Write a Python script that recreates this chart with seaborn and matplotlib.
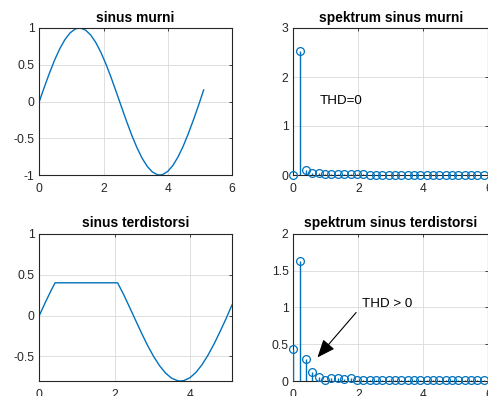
import numpy as np
import pandas as pd
import matplotlib
matplotlib.use("Agg")
import matplotlib.pyplot as plt
from matplotlib.ticker import FuncFormatter
import seaborn as sns

# ---------------- data ----------------
t_pure = [0, 0.16, 0.32, 0.48, 0.64, 0.80, 0.96, 1.12, 1.25, 1.28, 1.44, 1.60,
          1.76, 1.92, 2.08, 2.24, 2.40, 2.56, 2.72, 2.88, 3.04, 3.20, 3.36,
          3.52, 3.68, 3.75, 3.84, 4.00, 4.16, 4.32, 4.48, 4.64, 4.80, 4.96, 5.12]
y_pure = [0, 0.200, 0.391, 0.567, 0.720, 0.844, 0.934, 0.987, 1.0, 0.999, 0.972,
          0.905, 0.802, 0.666, 0.504, 0.321, 0.125, -0.075, -0.273, -0.460,
          -0.628, -0.771, -0.882, -0.959, -0.996, -1.0, -0.994, -0.951, -0.870,
          -0.754, -0.608, -0.437, -0.249, -0.050, 0.160]

t_dist = [0, 0.16, 0.32, 0.42, 2.08, 2.24, 2.40, 2.56, 2.72, 2.88, 3.04, 3.20,
          3.36, 3.52, 3.68, 3.75, 3.84, 4.00, 4.16, 4.32, 4.48, 4.64, 4.80,
          4.96, 5.12]
y_dist = [0, 0.160, 0.313, 0.40, 0.40, 0.257, 0.100, -0.060, -0.218, -0.368,
          -0.502, -0.616, -0.706, -0.767, -0.797, -0.80, -0.795, -0.761, -0.696,
          -0.603, -0.486, -0.350, -0.199, -0.040, 0.130]

freq = [0, 0.195, 0.391, 0.586, 0.781, 0.977, 1.172, 1.367, 1.563, 1.758,
        1.953, 2.148, 2.344, 2.539, 2.734, 2.930, 3.125, 3.320, 3.516, 3.711,
        3.906, 4.102, 4.297, 4.492, 4.688, 4.883, 5.078, 5.273, 5.469, 5.664,
        5.859]
spec_pure = [0.01, 2.53, 0.10, 0.05, 0.04, 0.03, 0.03, 0.02, 0.02, 0.02,
             0.02, 0.02, 0.01, 0.01, 0.01, 0.01, 0.01, 0.01, 0.01, 0.01,
             0.01, 0.01, 0.01, 0.01, 0.01, 0.01, 0.01, 0.01, 0.01, 0.01, 0.01]
spec_dist = [0.43, 1.63, 0.30, 0.12, 0.05, 0.01, 0.04, 0.04, 0.03, 0.04,
             0.02, 0.02, 0.02, 0.01, 0.01, 0.01, 0.01, 0.01, 0.01, 0.01,
             0.01, 0.01, 0.01, 0.01, 0.01, 0.01, 0.01, 0.01, 0.01, 0.01, 0.01]

titles = ["sinus murni", "spektrum sinus murni",
          "sinus terdistorsi", "spektrum sinus terdistorsi"]

# ---------------- style ----------------
sns.set_style("white")
plt.rcParams["font.family"] = ["Liberation Sans", "DejaVu Sans"]
plt.rcParams["axes.unicode_minus"] = False

BLUE = "#0072BD"
DARK = "#262626"
GRID = "#dedede"

W, H = 488, 396
fig = plt.figure(figsize=(W / 100, H / 100), dpi=100)


def box(left, top, width, height):
    return [left / W, (H - top - height) / H, width / W, height / H]


ax_tl = fig.add_axes(box(39.3, 28, 192.7, 147))
ax_tr = fig.add_axes(box(293.4, 28, 195.0, 147))
ax_bl = fig.add_axes(box(39.3, 233.7, 192.7, 147.3))
ax_br = fig.add_axes(box(293.4, 233.7, 195.0, 147.3))

fmt = FuncFormatter(lambda v, p: "%g" % round(v, 6))

# time signals
df_pure = pd.DataFrame({"t": t_pure, "y": y_pure})
df_dist = pd.DataFrame({"t": t_dist, "y": y_dist})
sns.lineplot(data=df_pure, x="t", y="y", ax=ax_tl, color=BLUE, lw=1.0,
             sort=False, estimator=None)
sns.lineplot(data=df_dist, x="t", y="y", ax=ax_bl, color=BLUE, lw=1.0,
             sort=False, estimator=None)

ax_tl.set_xlim(0, 6)
ax_tl.set_ylim(-1, 1)
ax_tl.set_xticks([0, 2, 4, 6])
ax_tl.set_yticks([-1, -0.5, 0, 0.5, 1])

ax_bl.set_xlim(0, 5.12)
ax_bl.set_ylim(-0.8, 1)
ax_bl.set_xticks([0, 2, 4])
ax_bl.set_yticks([-0.5, 0, 0.5, 1])

# spectra (stem plots)
for ax, vals in ((ax_tr, spec_pure), (ax_br, spec_dist)):
    ax.vlines(freq, 0, vals, color=BLUE, lw=1.0, zorder=3)
    mk, = ax.plot(freq, vals, ls="none", marker="o", ms=5.6, mfc="none",
                  mec=BLUE, mew=0.9, zorder=4)
    mk.set_clip_on(False)
    ax.set_xlim(0, 6)
    ax.set_xticks([0, 2, 4, 6])

ax_tr.set_ylim(0, 3)
ax_tr.set_yticks([0, 1, 2, 3])
ax_br.set_ylim(0, 2)
ax_br.set_yticks([0, 0.5, 1, 1.5, 2])

ax_tr.text(0.82, 1.5, "THD=0", ha="left", va="center", fontsize=9.6,
           color="black")
ax_br.text(2.12, 1.05, "THD > 0", ha="left", va="center", fontsize=9.6,
           color="black")
ax_br.annotate("", xy=(0.74, 0.32), xytext=(1.93, 0.93),
               arrowprops=dict(arrowstyle="-|>,head_length=1.1,head_width=0.45",
                               color="black", lw=0.8, shrinkA=0, shrinkB=0,
                               mutation_scale=10))

for ax, title in zip((ax_tl, ax_tr, ax_bl, ax_br), titles):
    ax.set_title(title, fontsize=9.9, fontweight="bold", color="black", pad=4.6)
    ax.set_xlabel("")
    ax.set_ylabel("")
    ax.grid(True, color=GRID, lw=0.7)
    ax.set_axisbelow(True)
    for s in ax.spines.values():
        s.set_color(DARK)
        s.set_linewidth(0.8)
        s.set_visible(True)
    ax.tick_params(axis="both", direction="in", length=2.5, width=0.6,
                   colors=DARK, labelsize=8.7, top=True, right=True)
    ax.tick_params(axis="x", pad=6)
    ax.tick_params(axis="y", pad=3.5)
    ax.xaxis.set_major_formatter(fmt)
    ax.yaxis.set_major_formatter(fmt)

fig.savefig("out.png", dpi=100)
